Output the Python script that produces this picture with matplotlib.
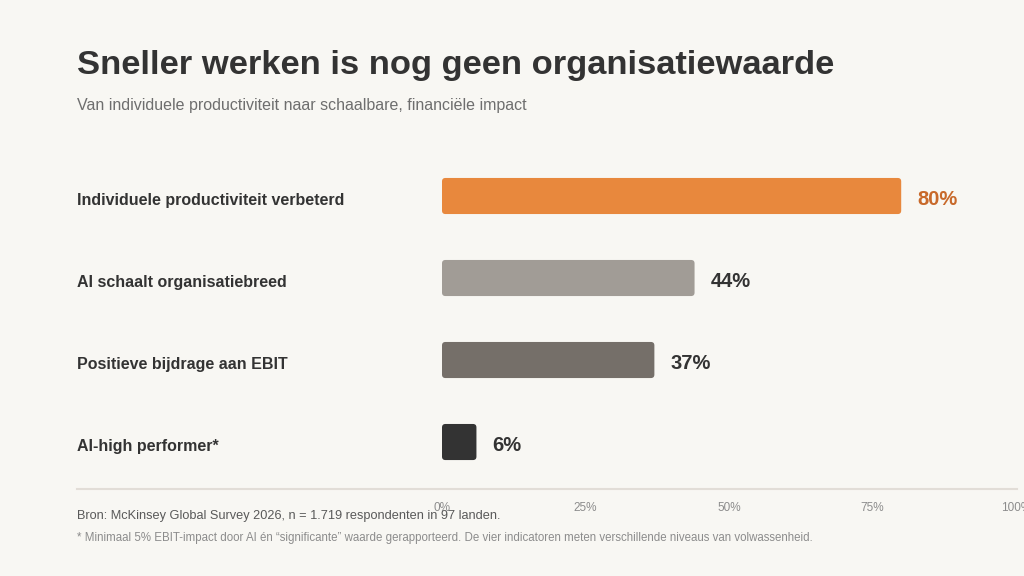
import matplotlib
matplotlib.use("Agg")
import matplotlib.pyplot as plt
from matplotlib.patches import FancyBboxPatch
from matplotlib.lines import Line2D
from matplotlib.transforms import blended_transform_factory

plt.rcParams['font.family'] = ['Liberation Sans', 'DejaVu Sans']

categories = ["Individuele productiviteit verbeterd", "AI schaalt organisatiebreed",
              "Positieve bijdrage aan EBIT", "AI-high performer*"]
values = [80, 44, 37, 6]
bar_colors = ["#E8883D", "#A19C96", "#756F69", "#333333"]
label_colors = ["#C8692A", "#333333", "#333333", "#333333"]
xticks = [0, 25, 50, 75, 100]
xtick_labels = ["0%", "25%", "50%", "75%", "100%"]

title = "Sneller werken is nog geen organisatiewaarde"
subtitle = "Van individuele productiviteit naar schaalbare, financiële impact"
source = "Bron: McKinsey Global Survey 2026, n = 1.719 respondenten in 97 landen."
note = ("* Minimaal 5% EBIT-impact door AI én \u201csignificante\u201d waarde gerapporteerd. "
        "De vier indicatoren meten verschillende niveaus van volwassenheid.")

BG = "#F8F7F3"
W, H = 1024, 576
fig = plt.figure(figsize=(10.24, 5.76), dpi=100, facecolor=BG)

ax_left = 442 / W
ax_width = 574 / W
ax_bottom = (H - 489) / H
ax_top = (H - 146.8) / H
ax = fig.add_axes([ax_left, ax_bottom, ax_width, ax_top - ax_bottom])
ax.set_facecolor("none")
ax.set_xlim(0, 100)
ax.set_ylim(3.573, -0.6)

bar_h = 0.44
bars = ax.barh(range(len(values)), values, height=bar_h, color="none")
for b, c in zip(bars, bar_colors):
    x0, y0 = b.get_x(), b.get_y()
    w, h = b.get_width(), b.get_height()
    b.set_visible(False)
    p = FancyBboxPatch((x0, y0), w, h,
                       boxstyle="round,pad=0,rounding_size=0.6",
                       mutation_aspect=0.07, facecolor=c, edgecolor="none")
    ax.add_patch(p)

for i, (v, lc) in enumerate(zip(values, label_colors)):
    ax.annotate(f"{v}%", (v, i), xytext=(11.5, -2.5), textcoords="offset points",
                ha="left", va="center", fontsize=14.5, fontweight="bold", color=lc)

ax.set_yticks([])
ax.set_xticks(xticks)
ax.set_xticklabels(xtick_labels)
ax.tick_params(axis="x", length=0, pad=9.5, labelsize=8.5, labelcolor="#8C8C8C")
for s in ax.spines.values():
    s.set_visible(False)

# category labels
tr = blended_transform_factory(fig.transFigure, ax.transData)
for i, cat in enumerate(categories):
    ax.text(77 / W, i + 0.05, cat, transform=tr,
            ha="left", va="center", fontsize=11.5, fontweight="bold", color="#333333")

# separator line
fig.add_artist(Line2D([77 / W, 1017 / W], [(H - 489) / H] * 2, color="#E2DDD7",
                      linewidth=1.5, transform=fig.transFigure))

fig.text(77 / W, (H - 74) / H, title, ha="left", va="baseline", fontsize=24.8,
         fontweight="bold", color="#333333")
fig.text(77 / W, (H - 110) / H, subtitle, ha="left", va="baseline", fontsize=11.5,
         color="#6E6E6E")
fig.text(77 / W, (H - 519) / H, source, ha="left", va="baseline", fontsize=9.2,
         color="#595959")
fig.text(77 / W, (H - 541) / H, note, ha="left", va="baseline", fontsize=8.3,
         color="#8C8C8C")

fig.savefig("out.png", dpi=100, facecolor=BG)
